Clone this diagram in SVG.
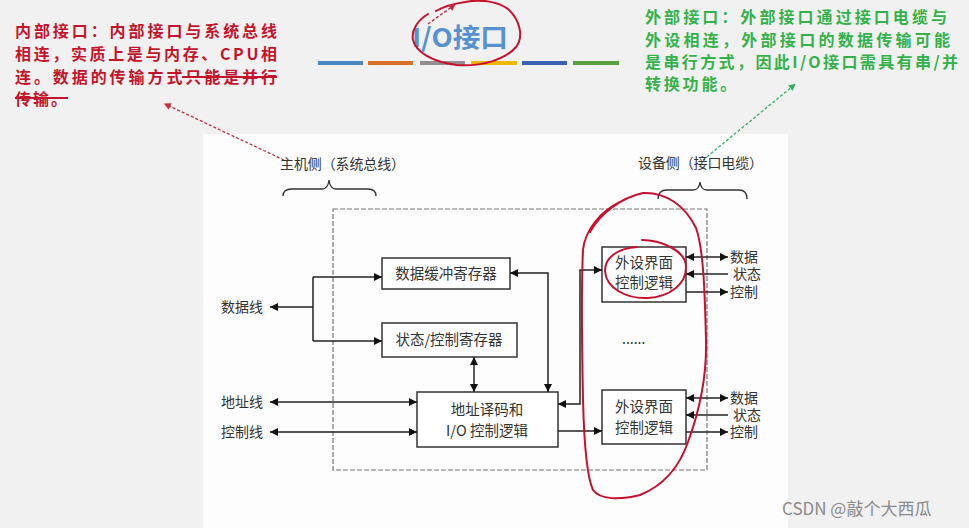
<svg xmlns="http://www.w3.org/2000/svg" width="969" height="528" viewBox="0 0 969 528">
<defs>
<style>
.cn{font-family:"Noto Sans CJK SC","Liberation Sans",sans-serif;}
.red{fill:#c4142c;font-size:16px;font-weight:bold;}
.grn{fill:#34b24a;font-size:16px;font-weight:bold;}
.lbl{fill:#333;font-size:14px;}
.box{fill:#fff;stroke:#333;stroke-width:1.5;}
.bt{fill:#333;font-size:14.5px;text-anchor:middle;}
.con{stroke:#222;stroke-width:1.5;fill:none;}
.ink{stroke:#c8102e;stroke-width:2;fill:none;stroke-linecap:round;stroke-linejoin:round;}
</style>
<marker id="ah" viewBox="0 0 10 10" refX="10" refY="5" markerWidth="9" markerHeight="8" markerUnits="userSpaceOnUse" orient="auto-start-reverse">
<path d="M0,0 L10,5 L0,10 Z" fill="#111"/>
</marker>
<marker id="rh" viewBox="0 0 10 10" refX="5" refY="5" markerWidth="7" markerHeight="7" markerUnits="userSpaceOnUse" orient="auto-start-reverse">
<path d="M0,0 L10,5 L0,10 Z" fill="#c03040"/>
</marker>
<marker id="gh" viewBox="0 0 10 10" refX="5" refY="5" markerWidth="7" markerHeight="7" markerUnits="userSpaceOnUse" orient="auto-start-reverse">
<path d="M0,0 L10,5 L0,10 Z" fill="#30b060"/>
</marker>
</defs>
<rect width="969" height="528" fill="#f1f1f1"/>
<rect x="203" y="134" width="585" height="394" fill="#fdfdfd"/>

<g id="title">
<text class="cn" x="412" y="47" font-size="26" font-weight="bold" fill="#5592cf" textLength="96" lengthAdjust="spacingAndGlyphs">I/O接口</text>
<rect x="318" y="61" width="45" height="4" fill="#4a88c4"/>
<rect x="368" y="61" width="45" height="4" fill="#d96f2c"/>
<rect x="420" y="61" width="45" height="4" fill="#909090"/>
<rect x="471" y="61" width="46" height="4" fill="#f0b800"/>
<rect x="522" y="61" width="45" height="4" fill="#3a60b0"/>
<rect x="573" y="61" width="46" height="4" fill="#5aa040"/>
<path class="ink" d="M428,14 C418,20 411,30 413,40 C416,52 432,62 457,65 C480,67 505,60 516,47 C524,37 520,20 508,9 C497,1 480,-1 465,2 C452,4 443,7 436,11"/>
<path d="M428,24 L453,6" stroke="#c03040" stroke-width="1.5" stroke-dasharray="3,2" marker-end="url(#rh)"/>
</g>

<g id="note-internal">
<text class="cn red" x="15" y="37" textLength="262" lengthAdjust="spacing">内部接口：内部接口与系统总线</text>
<text class="cn red" x="15" y="60" textLength="262" lengthAdjust="spacing">相连，实质上是与内存、CPU相</text>
<text class="cn red" x="15" y="83" textLength="262" lengthAdjust="spacing">连。数据的传输方式只能是并行</text>
<text class="cn red" x="15" y="105" letter-spacing="2">传输。</text>
<line x1="182" y1="77" x2="277" y2="77" stroke="#c4142c" stroke-width="2"/>
<line x1="15" y1="98" x2="68" y2="98" stroke="#c4142c" stroke-width="2"/>
<path d="M284,160 L167,105" stroke="#c03040" stroke-width="1.3" stroke-dasharray="3,2" fill="none" marker-end="url(#rh)"/>
</g>

<g id="note-external">
<text class="cn grn" x="645" y="23" textLength="302" lengthAdjust="spacing">外部接口：外部接口通过接口电缆与</text>
<text class="cn grn" x="645" y="46" textLength="305" lengthAdjust="spacing">外设相连，外部接口的数据传输可能</text>
<text class="cn grn" x="645" y="68" textLength="313" lengthAdjust="spacing">是串行方式，因此I/O接口需具有串/并</text>
<text class="cn grn" x="645" y="90" letter-spacing="2.8">转换功能。</text>
<path d="M703,160 L793,86" stroke="#30b060" stroke-width="1.3" stroke-dasharray="3,2" fill="none" marker-end="url(#gh)"/>
</g>

<g id="host-side">
<text class="cn lbl" x="280" y="169" textLength="125" lengthAdjust="spacing">主机侧（系统总线）</text>
<path d="M283,196 Q283,189 292,189 L322,189 Q328,189 329,180 Q330,189 336,189 L368,189 Q376,189 376,196" stroke="#333" stroke-width="1.3" fill="none"/>
</g>

<g id="device-side">
<text class="cn lbl" x="638" y="168" textLength="125" lengthAdjust="spacing">设备侧（接口电缆）</text>
<path d="M658,199 Q658,190 667,190 L693,190 Q699,190 700,182 Q701,190 707,190 L739,190 Q747,190 747,199" stroke="#333" stroke-width="1.3" fill="none"/>
</g>

<g id="interface-boundary">
<rect x="333" y="209" width="374" height="261" fill="none" stroke="#777" stroke-width="1.2" stroke-dasharray="5,2"/>
</g>

<g id="data-buffer">
<rect class="box" x="382" y="258" width="128" height="31"/>
<text class="cn bt" x="446" y="279">数据缓冲寄存器</text>
</g>
<g id="status-ctrl">
<rect class="box" x="382" y="323" width="135" height="34"/>
<text class="cn bt" x="449" y="345">状态/控制寄存器</text>
</g>
<g id="addr-decode">
<rect class="box" x="417" y="392" width="141" height="55"/>
<text class="cn bt" x="487" y="415">地址译码和</text>
<text class="cn bt" x="487" y="436">I/O 控制逻辑</text>
</g>
<g id="dev-ctrl-1">
<rect class="box" x="602" y="247" width="84" height="55"/>
<text class="cn bt" x="644" y="268">外设界面</text>
<text class="cn bt" x="644" y="288">控制逻辑</text>
</g>
<g id="dev-ctrl-2">
<rect class="box" x="602" y="390" width="84" height="54"/>
<text class="cn bt" x="644" y="412">外设界面</text>
<text class="cn bt" x="644" y="433">控制逻辑</text>
</g>
<g id="ellipsis">
<text class="cn" x="622" y="344" font-size="14" fill="#333">......</text>
</g>

<g id="labels">
<text class="cn lbl" x="221" y="312" font-size="15">数据线</text>
<text class="cn lbl" x="221" y="407" font-size="15">地址线</text>
<text class="cn lbl" x="221" y="437" font-size="15">控制线</text>
<text class="cn lbl" x="730" y="262">数据</text>
<text class="cn lbl" x="733" y="279">状态</text>
<text class="cn lbl" x="730" y="297">控制</text>
<text class="cn lbl" x="730" y="403">数据</text>
<text class="cn lbl" x="733" y="420">状态</text>
<text class="cn lbl" x="730" y="437">控制</text>
</g>

<g id="connectors">
<line class="con" x1="313" y1="307" x2="270" y2="307" marker-end="url(#ah)"/>
<path class="con" d="M313,277 V341"/>
<line class="con" x1="313" y1="277" x2="382" y2="277" marker-end="url(#ah)"/>
<line class="con" x1="313" y1="341" x2="382" y2="341" marker-end="url(#ah)"/>
<path class="con" d="M510,273 H548 V392" marker-start="url(#ah)" marker-end="url(#ah)"/>
<line class="con" x1="474" y1="357" x2="474" y2="392" marker-start="url(#ah)" marker-end="url(#ah)"/>
<line class="con" x1="270" y1="402" x2="417" y2="402" marker-start="url(#ah)" marker-end="url(#ah)"/>
<line class="con" x1="270" y1="432" x2="417" y2="432" marker-start="url(#ah)" marker-end="url(#ah)"/>
<path class="con" d="M558,404 H580 V270 H602" marker-start="url(#ah)" marker-end="url(#ah)"/>
<line class="con" x1="558" y1="431" x2="602" y2="431" marker-end="url(#ah)"/>
<line class="con" x1="686" y1="257" x2="728" y2="257" marker-start="url(#ah)" marker-end="url(#ah)"/>
<line class="con" x1="728" y1="274" x2="686" y2="274" marker-end="url(#ah)"/>
<line class="con" x1="686" y1="292" x2="728" y2="292" marker-end="url(#ah)"/>
<line class="con" x1="686" y1="398" x2="728" y2="398" marker-start="url(#ah)" marker-end="url(#ah)"/>
<line class="con" x1="728" y1="415" x2="686" y2="415" marker-end="url(#ah)"/>
<line class="con" x1="686" y1="432" x2="728" y2="432" marker-end="url(#ah)"/>
</g>

<g id="ink-marks">
<path class="ink" d="M590,232 C600,214 620,198 643,193 C665,192 685,205 696,228 C704,250 705,300 706,340 C707,380 698,415 688,442 C680,465 665,485 640,495 C620,500 600,500 593,490 C586,475 584,440 583,400 C582,350 581,290 583,250 C585,230 600,212 620,202"/>
<path class="ink" d="M642,240 C660,240 685,250 686,266 C687,285 668,297 648,298 C626,299 606,288 605,271 C605,256 620,248 637,247"/>
</g>

<text class="cn" x="782" y="515" font-size="17" fill="#8a8a8a">CSDN @敲个大西瓜</text>
</svg>
